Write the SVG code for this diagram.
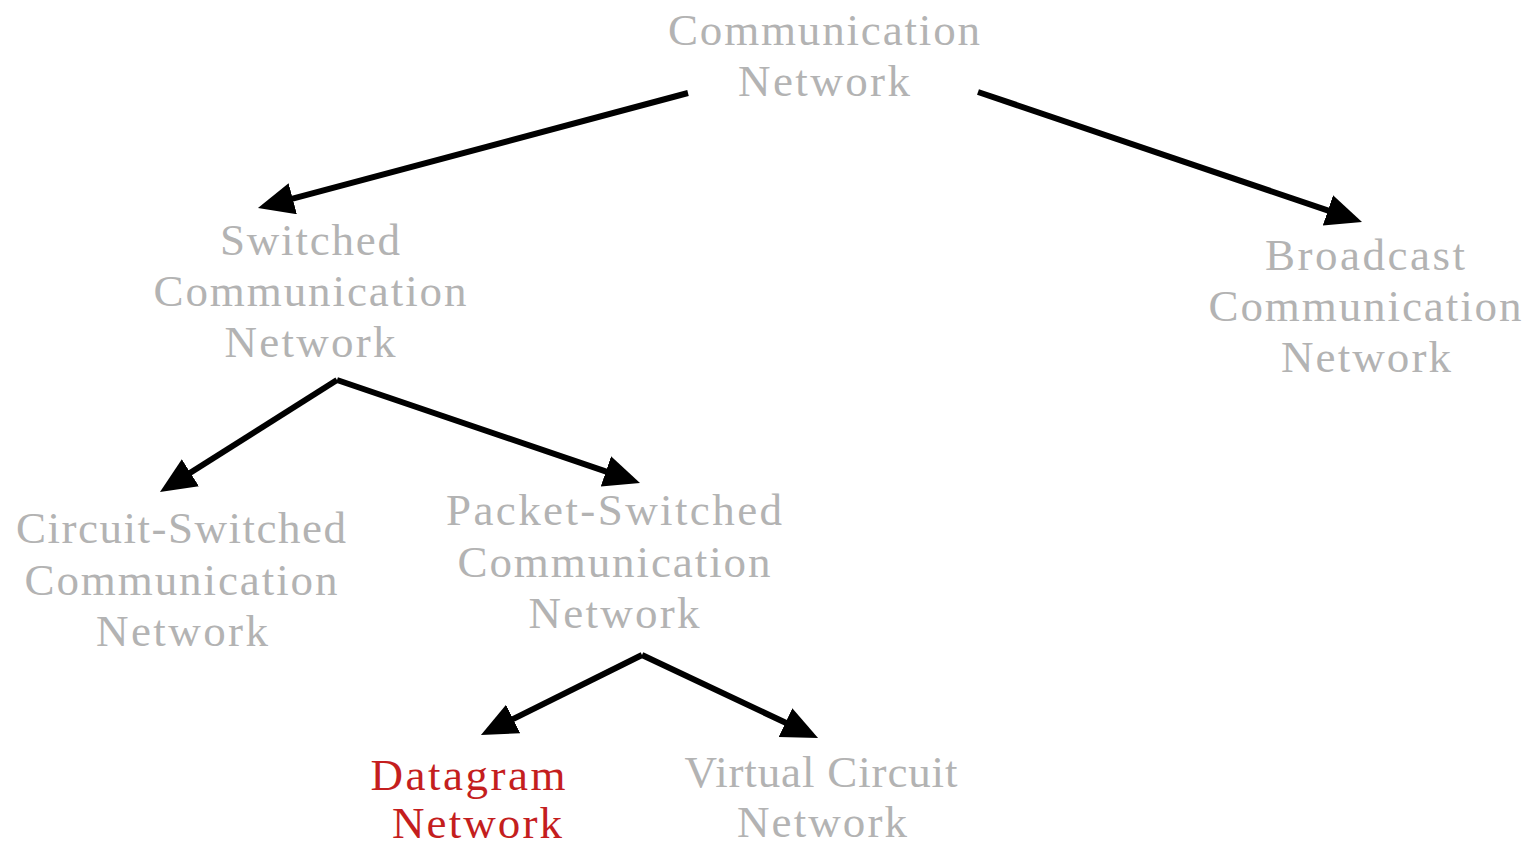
<svg xmlns="http://www.w3.org/2000/svg" width="1527" height="844" viewBox="0 0 1527 844">
<style>
  text { font-family: "Liberation Serif", "Times New Roman", serif; font-size: 45px; text-anchor: middle; }
  .g { fill: #b3b3b3; }
  .r { fill: #c41e1e; }
  .c { stroke: #000; stroke-width: 6; fill: none; marker-end: url(#ah); }
</style>
<defs>
  <marker id="ah" markerUnits="userSpaceOnUse" markerWidth="40" markerHeight="34" refX="2" refY="16" orient="auto">
    <path d="M0,0 L36,16 L0,32 Z" fill="#000"/>
  </marker>
</defs>
<rect width="1527" height="844" fill="#fff"/>
<g id="connectors">
  <line class="c" x1="688" y1="93" x2="290.8" y2="199.2"/>
  <line class="c" x1="978" y1="92" x2="1329.8" y2="211.1"/>
  <line class="c" x1="337" y1="380" x2="188.7" y2="473.8"/>
  <line class="c" x1="337" y1="380" x2="607.8" y2="472.1"/>
  <line class="c" x1="642" y1="655" x2="511.4" y2="719.9"/>
  <line class="c" x1="642" y1="655" x2="787.3" y2="723.5"/>
</g>
<g id="communication-network" class="g">
  <text x="824" y="45" textLength="312">Communication</text>
  <text x="824" y="96" textLength="172">Network</text>
</g>
<g id="switched" class="g">
  <text x="310" y="255" textLength="180">Switched</text>
  <text x="310" y="306" textLength="313">Communication</text>
  <text x="310" y="357" textLength="171">Network</text>
</g>
<g id="broadcast" class="g">
  <text x="1365" y="270" textLength="200">Broadcast</text>
  <text x="1365" y="321" textLength="313">Communication</text>
  <text x="1366" y="372" textLength="170">Network</text>
</g>
<g id="circuit-switched" class="g">
  <text x="181" y="543" textLength="330">Circuit-Switched</text>
  <text x="181" y="595" textLength="313">Communication</text>
  <text x="182" y="646" textLength="172">Network</text>
</g>
<g id="packet-switched" class="g">
  <text x="614" y="525" textLength="336">Packet-Switched</text>
  <text x="614" y="577" textLength="313">Communication</text>
  <text x="614" y="628" textLength="171">Network</text>
</g>
<g id="datagram" class="r">
  <text x="468" y="790" textLength="195">Datagram</text>
  <text x="477" y="838" textLength="170">Network</text>
</g>
<g id="virtual-circuit" class="g">
  <text x="821" y="787" textLength="273">Virtual Circuit</text>
  <text x="822" y="837" textLength="170">Network</text>
</g>
</svg>
